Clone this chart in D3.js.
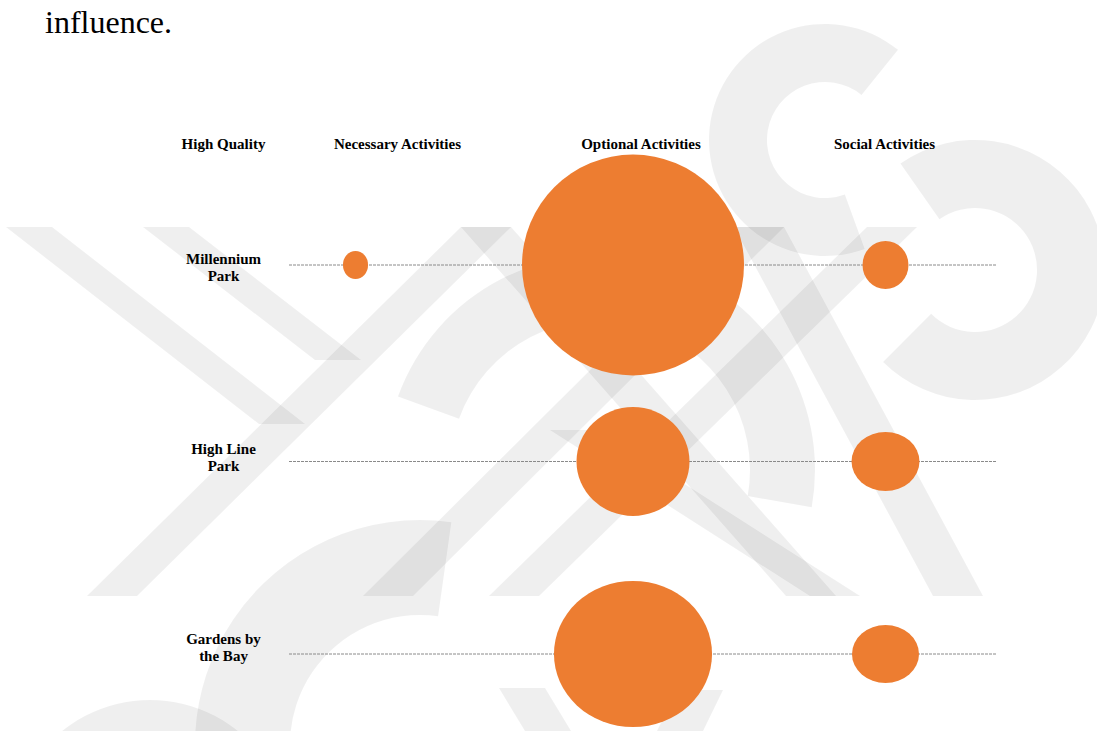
<!DOCTYPE html>
<html>
<head>
<meta charset="utf-8">
<script src="https://cdn.jsdelivr.net/npm/d3@7"></script>
<style>
  body { margin: 0; background: #fff; }
  svg { display: block; }
</style>
</head>
<body>
<div id="chart"></div>
<script>
// data
var corner = "High Quality";
var activities = ["Necessary Activities", "Optional Activities", "Social Activities"];
var parks = ["Millennium Park", "High Line Park", "Gardens by the Bay"];
var parkLines = [["Millennium", "Park"], ["High Line", "Park"], ["Gardens by", "the Bay"]];

// bubble size, relative units (Optional / Millennium Park = 100)
var necessaryW = [11.3, 0, 0],       necessaryH = [12.6, 0, 0];
var optionalW  = [100, 50.9, 71.2],  optionalH  = [99.5, 49.1, 65.8];
var socialW    = [20.7, 30.6, 30.2], socialH    = [21.6, 26.6, 26.1];

var width = 1097, height = 731;
var orange = "#ED7D31";
var serif = "'Liberation Serif', 'Times New Roman', serif";

var svg = d3.select("#chart")
  .append("svg")
    .attr("width", width)
    .attr("height", height)

// faint watermark behind the chart
var wm = svg.append("g")
    .attr("fill", "#000")
    .attr("fill-opacity", 0.062)

// straight bands: [x top, y top, x bottom, y bottom, horizontal width]
var bands = [
  [29, 227, 282, 424, 46],
  [166, 227, 338, 360, 46],
  [486, 227, 112, 596, 50],
  [759, 227, 388, 596, 50],
  [892, 227, 514, 596, 50],
  [486, 227, 811, 596, 50],
  [759, 227, 958, 596, 50],
  [575, 430, 835, 596, 50],
  [522, 688, 548, 731, 46],
  [700, 690, 680, 731, 46]
]
wm.selectAll("polygon")
  .data(bands)
  .enter()
  .append("polygon")
    .attr("points", function (b) {
      return [[b[0] - b[4]/2, b[1]], [b[0] + b[4]/2, b[1]],
              [b[2] + b[4]/2, b[3]], [b[2] - b[4]/2, b[3]]].join(" ")
    })

// curved strokes: [cx, cy, inner, outer, start deg, end deg]
var arcs = [
  [825, 140, 58, 116, -200, 39],
  [975, 270, 62, 130, -35, 225],
  [420, 745, 130, 225, -120, 8],
  [150, 840, 80, 140, -55, 55],
  [600, 470, 150, 215, -70, 100]
]
var arcGen = d3.arc()
wm.selectAll("path")
  .data(arcs)
  .enter()
  .append("path")
    .attr("transform", function (a) { return "translate(" + a[0] + "," + a[1] + ")" })
    .attr("d", function (a) {
      return arcGen({innerRadius: a[2], outerRadius: a[3],
                     startAngle: a[4] * Math.PI / 180, endAngle: a[5] * Math.PI / 180})
    })

// lead-in text from the page
svg.append("text")
    .attr("x", 45)
    .attr("y", 33)
    .style("font-family", serif)
    .style("font-size", "32px")
    .style("fill", "#000")
    .text("influence.")

// scales
var xHead = d3.scaleOrdinal()
  .domain([corner].concat(activities))
  .range([223.5, 397.5, 641, 884.5])

var xBubble = d3.scaleOrdinal()
  .domain(activities)
  .range([355.5, 633, 885.5])

var yRow = d3.scaleOrdinal()
  .domain(parks)
  .range([265, 461.5, 654])

var yLabel = d3.scalePoint()
  .domain(parks)
  .range([267.5, 647.5])

var size = d3.scaleLinear()
  .domain([0, 100])
  .range([0, 222])

// column headers
svg.append("g")
  .selectAll("text")
  .data([corner].concat(activities))
  .enter()
  .append("text")
    .attr("x", function (d) { return xHead(d) })
    .attr("y", 149)
    .attr("text-anchor", "middle")
    .style("font-family", serif)
    .style("font-weight", "bold")
    .style("font-size", "15px")
    .text(function (d) { return d })

// dashed row guides
svg.append("g")
  .selectAll("line")
  .data(parks)
  .enter()
  .append("line")
    .attr("x1", 289)
    .attr("x2", 996)
    .attr("y1", function (d) { return yRow(d) })
    .attr("y2", function (d) { return yRow(d) })
    .attr("stroke", "#8a8a8a")
    .attr("stroke-width", 1)
    .attr("stroke-dasharray", "3,1")

// bubbles
var bubbles = []
parks.forEach(function (p, i) {
  bubbles.push({park: p, act: activities[0], w: necessaryW[i], h: necessaryH[i]})
  bubbles.push({park: p, act: activities[1], w: optionalW[i], h: optionalH[i]})
  bubbles.push({park: p, act: activities[2], w: socialW[i], h: socialH[i]})
})

svg.append("g")
  .selectAll("ellipse")
  .data(bubbles.filter(function (d) { return d.w > 0 }))
  .enter()
  .append("ellipse")
    .attr("cx", function (d) { return xBubble(d.act) })
    .attr("cy", function (d) { return yRow(d.park) })
    .attr("rx", function (d) { return size(d.w) / 2 })
    .attr("ry", function (d) { return size(d.h) / 2 })
    .style("fill", orange)

// row labels
var rowLab = svg.append("g")
  .selectAll("text")
  .data(parks)
  .enter()
  .append("text")
    .attr("text-anchor", "middle")
    .style("font-family", serif)
    .style("font-weight", "bold")
    .style("font-size", "15px")

rowLab.selectAll("tspan")
  .data(function (d, i) { return parkLines[i].map(function (t) { return {t: t, park: d} }) })
  .enter()
  .append("tspan")
    .attr("x", xHead(corner))
    .attr("y", function (d, j) { return yLabel(d.park) + (j === 0 ? -3.5 : 13.5) })
    .text(function (d) { return d.t })
</script>
</body>
</html>
